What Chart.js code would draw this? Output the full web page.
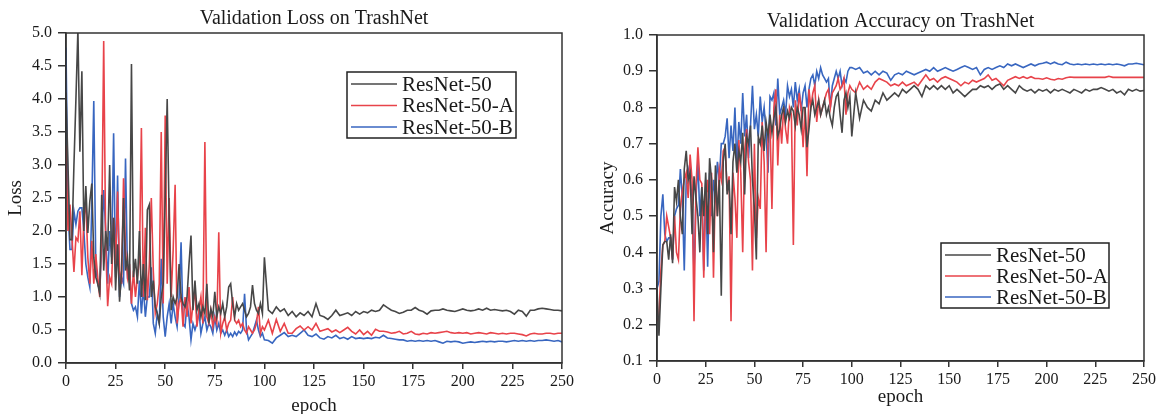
<!DOCTYPE html>
<html>
<head>
<meta charset="utf-8">
<script src="https://cdn.jsdelivr.net/npm/chart.js@4/dist/chart.umd.min.js"></script>
<style>
  body { margin: 0; background: #fff; width: 1159px; height: 414px; overflow: hidden; }
  #lossBox { position: absolute; left: 0; top: 0; width: 580px; height: 414px; }
  #accBox { position: absolute; left: 580px; top: 0; width: 579px; height: 414px; }
</style>
</head>
<body>
<div id="lossBox"><canvas id="lossChart" width="580" height="414"></canvas></div>
<div id="accBox"><canvas id="accChart" width="579" height="414"></canvas></div>
<script>
// epochs: every epoch up to 100, then every second epoch
const epochs = [
  0,1,2,3,4,5,6,7,8,9, 10,11,12,13,14,15,16,17,18,19,
  20,21,22,23,24,25,26,27,28,29, 30,31,32,33,34,35,36,37,38,39,
  40,41,42,43,44,45,46,47,48,49, 50,51,52,53,54,55,56,57,58,59,
  60,61,62,63,64,65,66,67,68,69, 70,71,72,73,74,75,76,77,78,79,
  80,81,82,83,84,85,86,87,88,89, 90,91,92,93,94,95,96,97,98,99,
  100,
  102,104,106,108,110,112,114,116,118,120, 122,124,126,128,130,132,134,136,138,140,
  142,144,146,148,150,152,154,156,158,160, 162,164,166,168,170,172,174,176,178,180,
  182,184,186,188,190,192,194,196,198,200, 202,204,206,208,210,212,214,216,218,220,
  222,224,226,228,230,232,234,236,238,240, 242,244,246,248,250
];

const seriesNames = ['ResNet-50', 'ResNet-50-A', 'ResNet-50-B'];
const seriesColors = ['#474747', '#e8434a', '#3866c0'];

// validation loss
const lossBase = [
  4.1,3.0,1.87,1.87,3.0,4.0,5.05,3.2,4.42,2.0, 2.68,1.97,2.45,2.72,1.6,1.3,1.2,1.05,2.55,1.4,
  2.0,1.7,3.0,1.5,2.2,1.1,1.8,0.93,1.4,2.5, 1.4,1.6,1.1,4.53,1.3,1.58,1.2,2.0,1.0,1.5,
  0.95,2.32,2.4,1.0,1.25,0.85,0.75,0.6,1.0,1.2, 2.5,4.0,2.2,0.8,1.0,0.9,1.0,1.5,1.0,0.9,
  0.85,1.0,1.5,1.93,0.8,1.25,0.8,0.9,0.7,0.85, 0.75,1.2,0.6,0.82,0.7,1.08,0.7,0.85,0.75,0.9,
  0.7,0.85,1.15,1.2,0.9,0.7,0.9,0.8,0.85,0.9, 0.8,0.7,0.75,0.85,1.18,0.9,0.8,0.75,0.9,0.75,
  1.6,
  0.8,0.75,0.85,0.78,0.82,0.72,0.78,0.7,0.76,0.72, 0.78,0.7,0.9,0.72,0.7,0.66,0.72,0.8,0.72,0.74,
  0.76,0.72,0.78,0.74,0.78,0.76,0.8,0.78,0.8,0.88, 0.84,0.8,0.78,0.75,0.77,0.8,0.8,0.84,0.8,0.78,
  0.74,0.79,0.8,0.8,0.82,0.8,0.79,0.78,0.8,0.82, 0.8,0.79,0.8,0.82,0.8,0.83,0.8,0.81,0.8,0.79,
  0.8,0.78,0.74,0.8,0.78,0.71,0.8,0.8,0.82,0.83, 0.82,0.81,0.8,0.8,0.79
];
const lossA = [
  3.3,2.0,2.4,1.9,1.38,1.9,1.85,2.3,1.33,2.2, 2.45,1.6,1.2,1.85,1.2,1.65,1.3,1.0,2.0,4.88,
  1.8,0.86,1.3,1.2,2.2,1.5,2.6,1.4,1.2,2.8, 1.7,1.3,1.5,0.9,1.4,1.0,1.3,1.55,3.56,1.0,
  2.05,0.95,1.5,2.5,1.4,0.75,0.9,1.2,3.5,0.9, 3.75,1.2,2.5,1.0,1.7,2.7,0.6,0.9,1.0,0.55,
  1.0,0.7,1.15,0.6,0.9,1.1,0.55,0.8,1.0,0.6, 3.35,0.7,0.6,0.8,0.55,0.7,0.6,1.98,0.45,0.6,
  0.7,0.5,0.6,0.65,1.0,0.65,0.6,0.65,0.55,0.6, 0.5,0.45,0.55,0.5,0.45,0.5,0.6,0.85,0.45,0.55,
  0.5,
  0.65,0.45,0.66,0.48,0.6,0.45,0.45,0.52,0.56,0.5, 0.55,0.5,0.6,0.48,0.5,0.52,0.47,0.5,0.46,0.5,
  0.54,0.48,0.44,0.5,0.43,0.48,0.42,0.51,0.48,0.48, 0.47,0.45,0.46,0.48,0.44,0.45,0.48,0.44,0.43,0.45,
  0.44,0.46,0.45,0.46,0.47,0.48,0.46,0.45,0.46,0.45, 0.46,0.44,0.45,0.46,0.45,0.44,0.46,0.45,0.44,0.45,
  0.44,0.45,0.45,0.44,0.43,0.41,0.44,0.45,0.44,0.44, 0.45,0.45,0.44,0.45,0.45
];
const lossB = [
  4.78,2.3,1.72,1.72,2.3,2.1,2.3,2.35,2.35,2.0, 1.5,1.3,1.15,2.4,3.97,1.5,1.2,1.1,1.8,2.62,
  2.0,1.2,2.0,1.6,3.48,1.3,2.84,1.0,1.3,1.2, 3.1,1.35,1.45,0.9,0.8,0.85,0.7,1.25,0.75,1.15,
  0.7,1.0,1.0,1.45,0.6,0.45,0.75,0.6,1.58,0.7, 0.4,0.7,0.9,0.6,0.9,0.7,0.55,1.0,1.83,0.6,
  0.55,0.9,0.7,0.35,0.6,0.5,0.6,0.8,0.45,0.6, 0.7,0.5,0.6,0.55,0.45,0.7,0.5,0.6,0.45,0.5,
  0.42,0.5,0.4,0.45,0.4,0.47,0.42,0.48,0.45,0.5, 1.05,0.5,0.35,0.4,0.45,0.55,0.65,0.5,0.4,0.45,
  0.35,
  0.34,0.3,0.38,0.42,0.46,0.4,0.42,0.4,0.45,0.5, 0.42,0.4,0.44,0.38,0.36,0.4,0.38,0.42,0.37,0.39,
  0.36,0.4,0.37,0.38,0.37,0.38,0.37,0.39,0.38,0.42, 0.38,0.37,0.36,0.35,0.35,0.33,0.34,0.33,0.34,0.33,
  0.34,0.33,0.34,0.32,0.3,0.33,0.32,0.33,0.32,0.3, 0.31,0.32,0.31,0.32,0.33,0.32,0.33,0.32,0.33,0.33,
  0.32,0.33,0.34,0.33,0.34,0.33,0.34,0.33,0.34,0.34, 0.35,0.34,0.33,0.34,0.32
];

// validation accuracy
const accBase = [
  0.3,0.17,0.3,0.42,0.43,0.43,0.38,0.45,0.37,0.58, 0.54,0.6,0.5,0.45,0.63,0.68,0.6,0.62,0.45,0.61,
  0.55,0.5,0.4,0.58,0.5,0.62,0.45,0.66,0.6,0.4, 0.64,0.5,0.6,0.28,0.65,0.7,0.56,0.6,0.45,0.65,
  0.7,0.62,0.68,0.65,0.73,0.56,0.72,0.7,0.75,0.6, 0.52,0.38,0.72,0.7,0.75,0.68,0.76,0.72,0.78,0.73,
  0.77,0.8,0.72,0.74,0.78,0.8,0.76,0.79,0.77,0.8, 0.79,0.75,0.8,0.78,0.74,0.8,0.8,0.69,0.74,0.8,
  0.82,0.78,0.8,0.82,0.78,0.8,0.82,0.78,0.8,0.77, 0.75,0.8,0.83,0.84,0.78,0.73,0.82,0.84,0.8,0.83,
  0.72,
  0.84,0.77,0.82,0.8,0.79,0.82,0.81,0.84,0.82,0.83, 0.84,0.83,0.85,0.84,0.85,0.86,0.85,0.83,0.86,0.85,
  0.86,0.85,0.86,0.85,0.86,0.84,0.85,0.84,0.83,0.84, 0.85,0.85,0.86,0.855,0.86,0.85,0.86,0.865,0.85,0.86,
  0.85,0.84,0.86,0.85,0.845,0.85,0.84,0.85,0.845,0.85, 0.84,0.85,0.845,0.85,0.845,0.84,0.85,0.845,0.84,0.85,
  0.845,0.85,0.85,0.855,0.85,0.845,0.85,0.84,0.845,0.835, 0.85,0.845,0.85,0.845,0.847
];
const accA = [
  0.21,0.22,0.35,0.42,0.43,0.5,0.47,0.44,0.38,0.5, 0.4,0.38,0.52,0.57,0.6,0.62,0.55,0.67,0.6,0.21,
  0.58,0.69,0.6,0.59,0.33,0.55,0.6,0.45,0.62,0.33, 0.6,0.5,0.63,0.6,0.68,0.69,0.57,0.61,0.21,0.62,
  0.55,0.44,0.71,0.62,0.4,0.68,0.74,0.65,0.6,0.35, 0.7,0.44,0.55,0.52,0.76,0.65,0.4,0.72,0.76,0.52,
  0.8,0.85,0.64,0.78,0.7,0.8,0.74,0.7,0.8,0.78, 0.42,0.82,0.75,0.84,0.8,0.69,0.8,0.61,0.85,0.8,
  0.84,0.86,0.76,0.82,0.78,0.8,0.82,0.84,0.85,0.8, 0.84,0.85,0.86,0.88,0.85,0.86,0.88,0.78,0.84,0.86,
  0.85,
  0.84,0.87,0.85,0.86,0.85,0.87,0.88,0.875,0.87,0.86, 0.865,0.86,0.87,0.86,0.865,0.87,0.86,0.875,0.89,0.875,
  0.88,0.87,0.88,0.885,0.88,0.875,0.87,0.86,0.87,0.865, 0.875,0.87,0.875,0.88,0.89,0.875,0.88,0.87,0.86,0.875,
  0.88,0.885,0.88,0.885,0.88,0.885,0.88,0.88,0.878,0.882, 0.878,0.876,0.88,0.878,0.882,0.884,0.883,0.883,0.883,0.883,
  0.883,0.883,0.883,0.883,0.883,0.886,0.883,0.883,0.883,0.883, 0.883,0.883,0.883,0.883,0.883
];
const accB = [
  0.3,0.32,0.5,0.56,0.45,0.43,0.44,0.44,0.38,0.5, 0.52,0.53,0.63,0.55,0.35,0.6,0.63,0.6,0.55,0.34,
  0.55,0.65,0.5,0.58,0.35,0.6,0.36,0.62,0.5,0.6, 0.55,0.65,0.6,0.7,0.7,0.72,0.77,0.66,0.75,0.68,
  0.8,0.64,0.76,0.7,0.84,0.72,0.78,0.66,0.75,0.86, 0.74,0.78,0.72,0.83,0.76,0.8,0.73,0.62,0.83,0.82,
  0.84,0.75,0.88,0.78,0.8,0.82,0.78,0.86,0.83,0.85, 0.8,0.87,0.82,0.85,0.79,0.84,0.86,0.8,0.85,0.88,
  0.89,0.86,0.9,0.88,0.91,0.89,0.88,0.87,0.88,0.8, 0.86,0.88,0.9,0.88,0.9,0.86,0.88,0.87,0.9,0.91,
  0.91,
  0.905,0.91,0.895,0.9,0.89,0.9,0.89,0.9,0.895,0.875, 0.89,0.895,0.89,0.9,0.895,0.89,0.895,0.9,0.905,0.9,
  0.91,0.9,0.905,0.91,0.905,0.9,0.905,0.91,0.915,0.91, 0.905,0.91,0.89,0.905,0.91,0.905,0.91,0.915,0.91,0.92,
  0.915,0.92,0.915,0.91,0.915,0.92,0.915,0.92,0.922,0.925, 0.92,0.925,0.92,0.918,0.925,0.92,0.918,0.92,0.918,0.92,
  0.918,0.92,0.918,0.92,0.918,0.92,0.918,0.92,0.918,0.915, 0.92,0.92,0.922,0.92,0.918
];

const FONT = "'Liberation Serif', 'Times New Roman', serif";
const INK = '#1a1a1a';

function toPoints(values) {
  return epochs.map((e, i) => ({ x: e, y: values[i] }));
}

// frame round the plot area + boxed legend inside it
const framePlugin = {
  id: 'frame',
  afterDraw(chart, args, opts) {
    const { ctx, chartArea: a } = chart;
    ctx.save();
    ctx.strokeStyle = '#333';
    ctx.lineWidth = 1.5;
    ctx.strokeRect(a.left, a.top, a.right - a.left, a.bottom - a.top);

    const b = opts.box;
    ctx.fillStyle = '#fff';
    ctx.fillRect(b.x, b.y, b.w, b.h);
    ctx.strokeStyle = '#222';
    ctx.lineWidth = 1.5;
    ctx.strokeRect(b.x, b.y, b.w, b.h);
    ctx.font = '21px ' + FONT;
    ctx.textBaseline = 'middle';
    chart.data.datasets.forEach((ds, i) => {
      const y = b.y + b.first + i * b.step;
      ctx.strokeStyle = ds.borderColor;
      ctx.lineWidth = 1.6;
      ctx.beginPath();
      ctx.moveTo(b.x + 4, y);
      ctx.lineTo(b.x + 50, y);
      ctx.stroke();
      ctx.fillStyle = INK;
      ctx.fillText(ds.label, b.x + 55, y + 1);
    });
    ctx.restore();
  }
};

function makeChart(id, title, yTitle, data, y, layout) {
  new Chart(document.getElementById(id), {
    type: 'line',
    data: {
      datasets: data.map((vals, i) => ({
        label: seriesNames[i],
        data: toPoints(vals),
        borderColor: seriesColors[i],
        borderWidth: 1.6,
        pointRadius: 0,
        tension: 0,
        fill: false
      }))
    },
    options: {
      responsive: false,
      animation: false,
      layout: { padding: { left: 0, right: layout.padRight, top: 0, bottom: 0 } },
      plugins: {
        legend: { display: false },
        tooltip: { enabled: false },
        title: {
          display: true,
          text: title,
          fullSize: false,
          color: INK,
          font: { family: FONT, size: 20, weight: 'normal', lineHeight: 1.2 },
          padding: layout.titlePad
        },
        frame: { box: layout.legend }
      },
      scales: {
        x: {
          type: 'linear',
          min: 0,
          max: 250,
          afterFit: s => { s.height = layout.xHeight; },
          ticks: { stepSize: 25, color: INK, padding: 3, maxRotation: 0,
                   font: { family: FONT, size: 16 } },
          grid: { drawOnChartArea: false, tickLength: 6, color: '#333', lineWidth: 1.5 },
          border: { color: '#333', width: 1.5 },
          title: { display: true, text: 'epoch', color: INK,
                   font: { family: FONT, size: 19, lineHeight: 1 },
                   padding: { top: 0, bottom: layout.epochPad } }
        },
        y: {
          min: y.min,
          max: y.max,
          afterFit: s => { s.width = layout.yWidth; },
          ticks: { stepSize: y.step, color: INK, padding: 6,
                   font: { family: FONT, size: 16 },
                   callback: v => v.toFixed(1) },
          grid: { drawOnChartArea: false, tickLength: 8, color: '#333', lineWidth: 1.5 },
          border: { color: '#333', width: 1.5 },
          title: { display: true, text: yTitle, color: INK,
                   font: { family: FONT, size: 19, lineHeight: 1.2 },
                   padding: { top: layout.yTitlePad, bottom: 0 } }
        }
      }
    },
    plugins: [framePlugin]
  });
}

makeChart('lossChart', 'Validation Loss on TrashNet', 'Loss',
  [lossBase, lossA, lossB], { min: 0, max: 5, step: 0.5 },
  { padRight: 18, titlePad: { top: 7, bottom: 2 }, xHeight: 51, yWidth: 66,
    yTitlePad: 5, epochPad: -1.5,
    legend: { x: 347, y: 72, w: 169, h: 66, first: 12, step: 21.5 } });

makeChart('accChart', 'Validation Accuracy on TrashNet', 'Accuracy',
  [accBase, accA, accB], { min: 0.1, max: 1.0, step: 0.1 },
  { padRight: 12, titlePad: { top: 10, bottom: 1 }, xHeight: 53, yWidth: 77,
    yTitlePad: 17, epochPad: 7,
    legend: { x: 361, y: 243, w: 168, h: 65, first: 12, step: 21 } });
</script>
</body>
</html>
